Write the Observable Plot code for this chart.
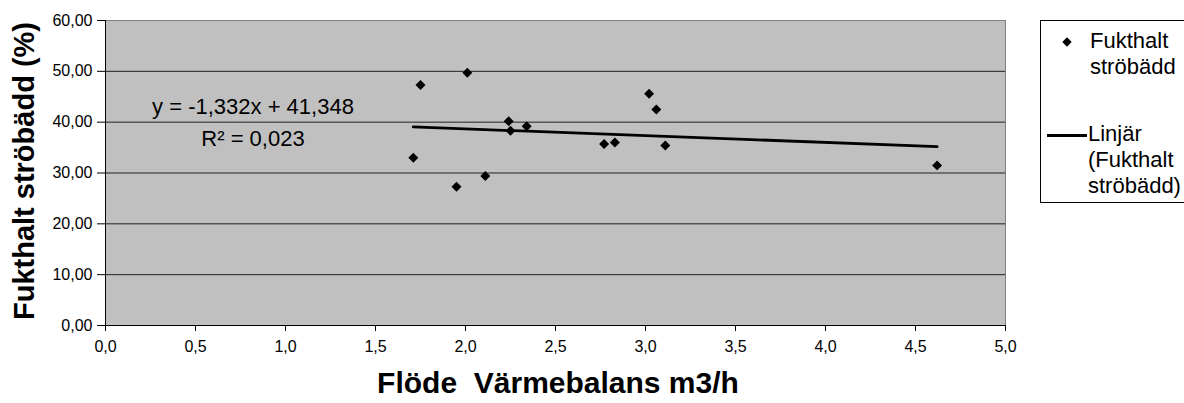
<!DOCTYPE html>
<html>
<head>
<meta charset="utf-8">
<script src="https://cdn.jsdelivr.net/npm/d3@7"></script>
<script src="https://cdn.jsdelivr.net/npm/@observablehq/plot@0.6"></script>
<style>
  html, body { margin: 0; padding: 0; background: #fff; }
  #wrap { position: relative; width: 1184px; height: 403px; overflow: hidden; font-family: "Liberation Sans", Arial, sans-serif; color: #000; }
  #wrap svg { position: absolute; left: 0; top: 0; }
  .ov { position: absolute; white-space: pre; }
</style>
</head>
<body>
<div id="wrap"></div>
<script>
// ---- data ----
const flow = [1.71, 1.75, 1.95, 2.01, 2.11, 2.24, 2.25, 2.34, 2.77, 2.83, 3.02, 3.06, 3.11, 4.62];
const moisture = [33.0, 47.3, 27.3, 49.7, 29.4, 40.2, 38.3, 39.2, 35.7, 36.0, 45.6, 42.5, 35.4, 31.5];
const slope = -1.332;
const intercept = 41.348;
const rSquared = "0,023";
const xTicks = [0, 0.5, 1, 1.5, 2, 2.5, 3, 3.5, 4, 4.5, 5];
const yTicks = [0, 10, 20, 30, 40, 50, 60];
const xTitle = "Flöde  Värmebalans m3/h";
const yTitle = "Fukthalt ströbädd (%)";
const seriesName = "Fukthalt ströbädd";
const trendName = "Linjär (Fukthalt ströbädd)";

const pts = flow.map((x, i) => ({x, y: moisture[i]}));
const [xmin, xmax] = d3.extent(flow);
const trend = [xmin, xmax].map(x => ({x, y: intercept + slope * x}));
const comma = (v, n) => v.toFixed(n).replace(".", ",");

const chart = Plot.plot({
  width: 1184, height: 403,
  marginLeft: 105, marginRight: 179, marginTop: 20, marginBottom: 78,
  style: {fontFamily: "Liberation Sans, Arial, sans-serif", fontSize: "16px", color: "#000", background: "transparent"},
  x: {domain: [0, 5]},
  y: {domain: [0, 60]},
  marks: [
    Plot.frame({fill: "#c0c0c0", stroke: "#808080"}),
    Plot.ruleY(yTicks.filter(t => t > 0 && t < 60), {stroke: "#202020", strokeWidth: 1}),
    Plot.ruleX([0], {stroke: "#000"}),
    Plot.ruleY([0], {stroke: "#000"}),
    Plot.axisX({ticks: xTicks, tickFormat: d => comma(d, 1), tickSize: 6, tickPadding: 9, fontSize: 16, label: null}),
    Plot.axisY({ticks: yTicks, tickFormat: d => comma(d, 2), tickSize: 8, tickPadding: 5, fontSize: 16, label: null}),
    Plot.line(trend, {x: "x", y: "y", stroke: "#000", strokeWidth: 2.8}),
    Plot.dot(pts, {x: "x", y: "y", symbol: "diamond2", r: 4.5, fill: "#000", stroke: "none"})
  ]
});

const wrap = document.getElementById("wrap");
wrap.appendChild(chart);

function ov(html, css) {
  const d = document.createElement("div");
  d.className = "ov";
  d.innerHTML = html;
  Object.assign(d.style, css);
  wrap.appendChild(d);
  return d;
}

// axis titles
ov(xTitle, {left: "358px", top: "368px", width: "400px", textAlign: "center", fontSize: "30px", fontWeight: "bold", lineHeight: "30px"});
ov(yTitle, {left: "-176px", top: "157px", width: "400px", height: "28px", textAlign: "center", fontSize: "29px", fontWeight: "bold", lineHeight: "28px", transform: "rotate(-90deg)"});

// regression equation
const sign = intercept >= 0 ? "+" : "-";
ov(`y = ${comma(slope, 3)}x ${sign} ${comma(Math.abs(intercept), 3)}`,
   {left: "133px", top: "93px", width: "240px", textAlign: "center", fontSize: "22px", lineHeight: "28px"});
ov(`R² = ${rSquared}`,
   {left: "133px", top: "125px", width: "240px", textAlign: "center", fontSize: "22px", lineHeight: "28px"});

// legend
ov("", {left: "1040px", top: "20px", width: "160px", height: "183px", border: "1px solid #000", background: "#fff", boxSizing: "border-box"});
ov(`<svg width="12" height="12"><path d="M6,1.3L10.7,6L6,10.7L1.3,6Z" fill="#000"/></svg>`, {left: "1061px", top: "36px", lineHeight: "0"});
ov(seriesName.replace(" ", "\n"), {left: "1090px", top: "28px", fontSize: "22px", lineHeight: "26px"});
ov("", {left: "1047px", top: "134px", width: "40px", height: "2.6px", background: "#000"});
ov(trendName.replace(" ", "\n").replace(" ", "\n"), {left: "1088px", top: "121px", fontSize: "22px", lineHeight: "26px"});
</script>
</body>
</html>
